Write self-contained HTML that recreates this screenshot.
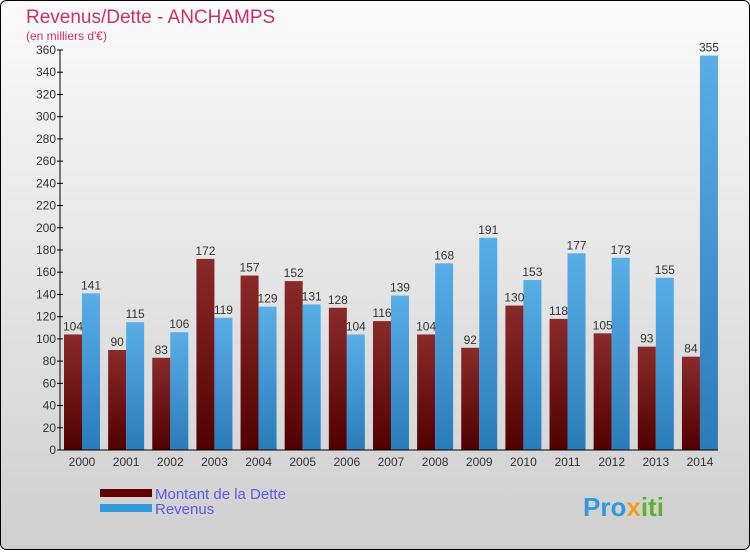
<!DOCTYPE html>
<html><head><meta charset="utf-8"><style>
html,body{margin:0;padding:0}
body{width:750px;height:550px;overflow:hidden;font-family:"Liberation Sans",sans-serif}
</style></head><body>
<svg id="chart" width="750" height="550" xmlns="http://www.w3.org/2000/svg">
<defs>
<linearGradient id="bg" x1="0" y1="0" x2="0" y2="1"><stop offset="0" stop-color="#fafafa"/><stop offset="1" stop-color="#cfcfcf"/></linearGradient>
<linearGradient id="gd" x1="0" y1="0" x2="0" y2="1"><stop offset="0" stop-color="#8a2a2a"/><stop offset="1" stop-color="#520000"/></linearGradient>
<linearGradient id="gr" x1="0" y1="0" x2="0" y2="1"><stop offset="0" stop-color="#5aaee8"/><stop offset="1" stop-color="#2a7cb8"/></linearGradient>
</defs>
<rect x="0.5" y="0.5" width="749" height="549" rx="6" fill="url(#bg)" stroke="#000"/>
<text x="26" y="23" font-size="19" fill="#c8306a">Revenus/Dette - ANCHAMPS</text>
<text x="26" y="40" font-size="12" fill="#c8306a">(en milliers d'€)</text>
<g id="grid"></g><g id="bars"></g><g id="axes"></g>
<rect x="100" y="489" width="52" height="8" fill="#620000"/>
<text x="155" y="499" font-size="15" fill="#5a5ae8">Montant de la Dette</text>
<rect x="100" y="504" width="52" height="8" fill="#3399dd"/>
<text x="155" y="514" font-size="15" fill="#5a5ae8">Revenus</text>
<text x="583" y="516" font-size="26" font-weight="bold" fill="#3399dd">Pro<tspan fill="#f0a020">x</tspan><tspan fill="#60b030">iti</tspan></text>
</svg>
<script>
const years=["2000","2001","2002","2003","2004","2005","2006","2007","2008","2009","2010","2011","2012","2013","2014"];
const dette=[104,90,83,172,157,152,128,116,104,92,130,118,105,93,84];
const revenus=[141,115,106,119,129,131,104,139,168,191,153,177,173,155,355];
const ticks=[0,20,40,60,80,100,120,140,160,180,200,220,240,260,280,300,320,340,360];
const NS="http://www.w3.org/2000/svg";
const x0=60,x1=718,yb=450,yt=50,ymax=360;
const y=v=>yb-(v/ymax)*(yb-yt);
const step=44.14,c0=82,bw=18;
const cx=i=>c0+i*step;
function mk(tag,attrs,parent,txt){const e=document.createElementNS(NS,tag);for(const k in attrs)e.setAttribute(k,attrs[k]);if(txt!==undefined)e.textContent=txt;document.getElementById(parent).appendChild(e);return e;}
const ax=mk("line",{x1:x0,y1:yt,x2:x0,y2:yb,stroke:"#000"},"axes");


const bx=mk("line",{x1:x0,y1:yb,x2:x1,y2:yb,stroke:"#000"},"axes");


ticks.forEach(t=>{
 const tk=mk("line",{x1:x0-3,y1:y(t),x2:x0+3,y2:y(t),stroke:"#000"},"axes");
 
 
 const tl=mk("text",{x:x0-4,y:y(t)+4,"font-size":12,"text-anchor":"end",fill:"#333"},"axes",String(t));
 
 
});
years.forEach((yr,i)=>{
 const xl=mk("text",{x:cx(i),y:yb+16,"font-size":12,"text-anchor":"middle",fill:"#333"},"axes",yr);
 
 
 const d=mk("rect",{x:cx(i)-bw,y:y(dette[i]),width:bw,height:yb-y(dette[i]),fill:"url(#gd)"},"bars");
 
 
 const r=mk("rect",{x:cx(i),y:y(revenus[i]),width:bw,height:yb-y(revenus[i]),fill:"url(#gr)"},"bars");
 
 
 const dl=mk("text",{x:cx(i)-bw/2,y:y(dette[i])-4,"font-size":12,"text-anchor":"middle",fill:"#333"},"bars",String(dette[i]));
 
 
 const rl=mk("text",{x:cx(i)+bw/2,y:y(revenus[i])-4,"font-size":12,"text-anchor":"middle",fill:"#333"},"bars",String(revenus[i]));
 
 
});
</script>
</body></html>
